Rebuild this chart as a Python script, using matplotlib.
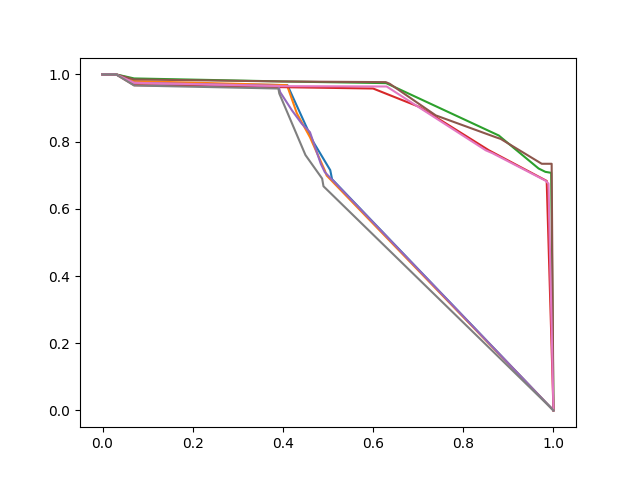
import matplotlib
matplotlib.use("Agg")
import matplotlib.pyplot as plt

# recall (x) / precision (y) per series, drawn in default color-cycle order
blue_x = [0.0, 0.03, 0.07, 0.41, 0.467, 0.505, 0.509, 1.0]
blue_y = [1.0, 1.0, 0.975, 0.968, 0.80, 0.715, 0.688, 0.0]

orange_x = [0.0, 0.03, 0.07, 0.409, 0.431, 0.46, 0.493, 0.497, 1.0]
orange_y = [1.0, 1.0, 0.98, 0.968, 0.884, 0.813, 0.714, 0.699, 1.0 * 0.0]

green_x = [0.0, 0.03, 0.07, 0.40, 0.629, 0.879, 0.886, 0.967, 0.982, 0.995, 1.0]
green_y = [1.0, 1.0, 0.988, 0.979, 0.974, 0.818, 0.81, 0.72, 0.71, 0.707, 0.0]

red_x = [0.0, 0.03, 0.07, 0.40, 0.60, 0.703, 0.857, 0.985, 1.0]
red_y = [1.0, 1.0, 0.968, 0.962, 0.958, 0.903, 0.774, 0.683, 0.0]

purple_x = [0.0, 0.03, 0.07, 0.39, 0.394, 0.42, 0.442, 0.46, 0.484, 0.493, 1.0]
purple_y = [1.0, 1.0, 0.975, 0.966, 0.947, 0.893, 0.853, 0.828, 0.734, 0.709, 0.0]

brown_x = [0.0, 0.03, 0.07, 0.40, 0.628, 0.637, 0.739, 0.872, 0.883, 0.974, 0.996, 1.0]
brown_y = [1.0, 1.0, 0.985, 0.979, 0.977, 0.972, 0.878, 0.813, 0.808, 0.734, 0.734, 0.0]

pink_x = [0.0, 0.03, 0.07, 0.40, 0.63, 0.85, 0.864, 0.982, 0.989, 1.0]
pink_y = [1.0, 1.0, 0.975, 0.965, 0.964, 0.774, 0.766, 0.684, 0.675, 0.0]

gray_x = [0.0, 0.03, 0.07, 0.39, 0.392, 0.45, 0.487, 0.49, 1.0]
gray_y = [1.0, 1.0, 0.967, 0.958, 0.943, 0.76, 0.69, 0.667, 0.0]

series = [(blue_x, blue_y), (orange_x, orange_y), (green_x, green_y),
          (red_x, red_y), (purple_x, purple_y), (brown_x, brown_y),
          (pink_x, pink_y), (gray_x, gray_y)]

fig, ax = plt.subplots(figsize=(6.4, 4.8), dpi=100)
for xs, ys in series:
    ax.plot(xs, ys)
fig.savefig("out.png")
